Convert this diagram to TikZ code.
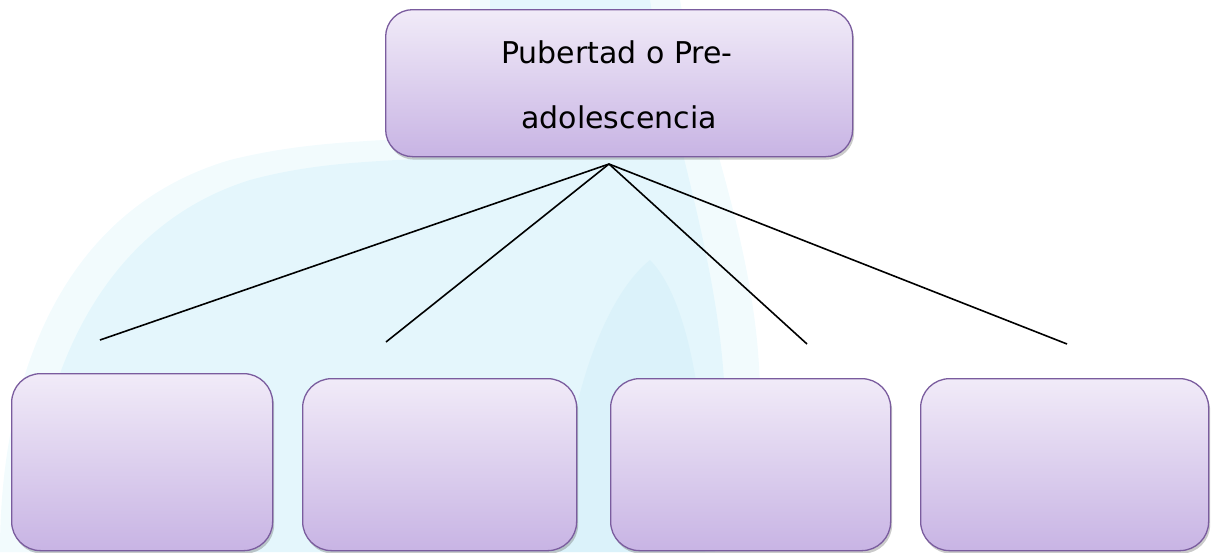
\documentclass[tikz,border=0pt]{standalone}
\usepackage{fontspec}
\setmainfont{DejaVu Sans}
\usetikzlibrary{shadows}
\definecolor{boxtop}{HTML}{F1EBF8}
\definecolor{boxbot}{HTML}{C8B4E4}
\definecolor{boxline}{HTML}{7A5C9E}
\definecolor{wm}{HTML}{D3F1FA}
\definecolor{wmdeep}{HTML}{C8E8F7}
\tikzset{
  pbox/.style={draw=boxline, line width=1.3pt, rounded corners=29pt,
    top color=boxtop, bottom color=boxbot,
    drop shadow={shadow xshift=1.5pt, shadow yshift=-3pt, opacity=0.35, fill=black!60}},
  link/.style={draw=black, line width=1.6pt},
  label/.style={font=\fontsize{30}{30}\selectfont, anchor=base, inner sep=0pt}
}
\begin{document}
\begin{tikzpicture}[x=1pt,y=-1pt]
\useasboundingbox (0,0) rectangle (1211,552);
% faint watermark background
\fill[wm, opacity=0.3] (0,552) .. controls (0,380) and (60,210) .. (230,160)
  .. controls (350,130) and (440,150) .. (470,120) -- (470,0) -- (680,0)
  .. controls (700,120) and (760,250) .. (760,400) -- (750,552) -- cycle;
\fill[wm, opacity=0.45] (30,552) .. controls (30,400) and (90,230) .. (250,180)
  .. controls (360,150) and (450,170) .. (490,140) -- (490,0) -- (650,0)
  .. controls (670,130) and (720,260) .. (725,400) -- (715,552) -- cycle;
\fill[wmdeep, opacity=0.3] (560,552) .. controls (560,420) and (600,300) .. (650,260)
  .. controls (690,300) and (710,420) .. (705,552) -- cycle;
% top box
\node[pbox, rounded corners=27pt, minimum width=467pt, minimum height=147pt, anchor=north west] (top) at (385,9) {};
\node[label] (t1) at (617,63) {Pubertad o Pre-};
\node[label] (t2) at (619,128) {adolescencia};
% bottom boxes
\node[pbox, minimum width=261pt, minimum height=177pt, anchor=north west] (b1) at (11,373) {};
\node[pbox, minimum width=274pt, minimum height=172pt, anchor=north west] (b2) at (302,378) {};
\node[pbox, minimum width=280pt, minimum height=172pt, anchor=north west] (b3) at (610,378) {};
\node[pbox, minimum width=288pt, minimum height=172pt, anchor=north west] (b4) at (920,378) {};
% connectors
\coordinate (hub) at (609,164);
\coordinate (e1) at (100,340);
\coordinate (e2) at (386,342);
\coordinate (e3) at (807,344);
\coordinate (e4) at (1067,344);
\draw[link] (hub) -- (e1);
\draw[link] (hub) -- (e2);
\draw[link] (hub) -- (e3);
\draw[link] (hub) -- (e4);
\end{tikzpicture}
\end{document}
